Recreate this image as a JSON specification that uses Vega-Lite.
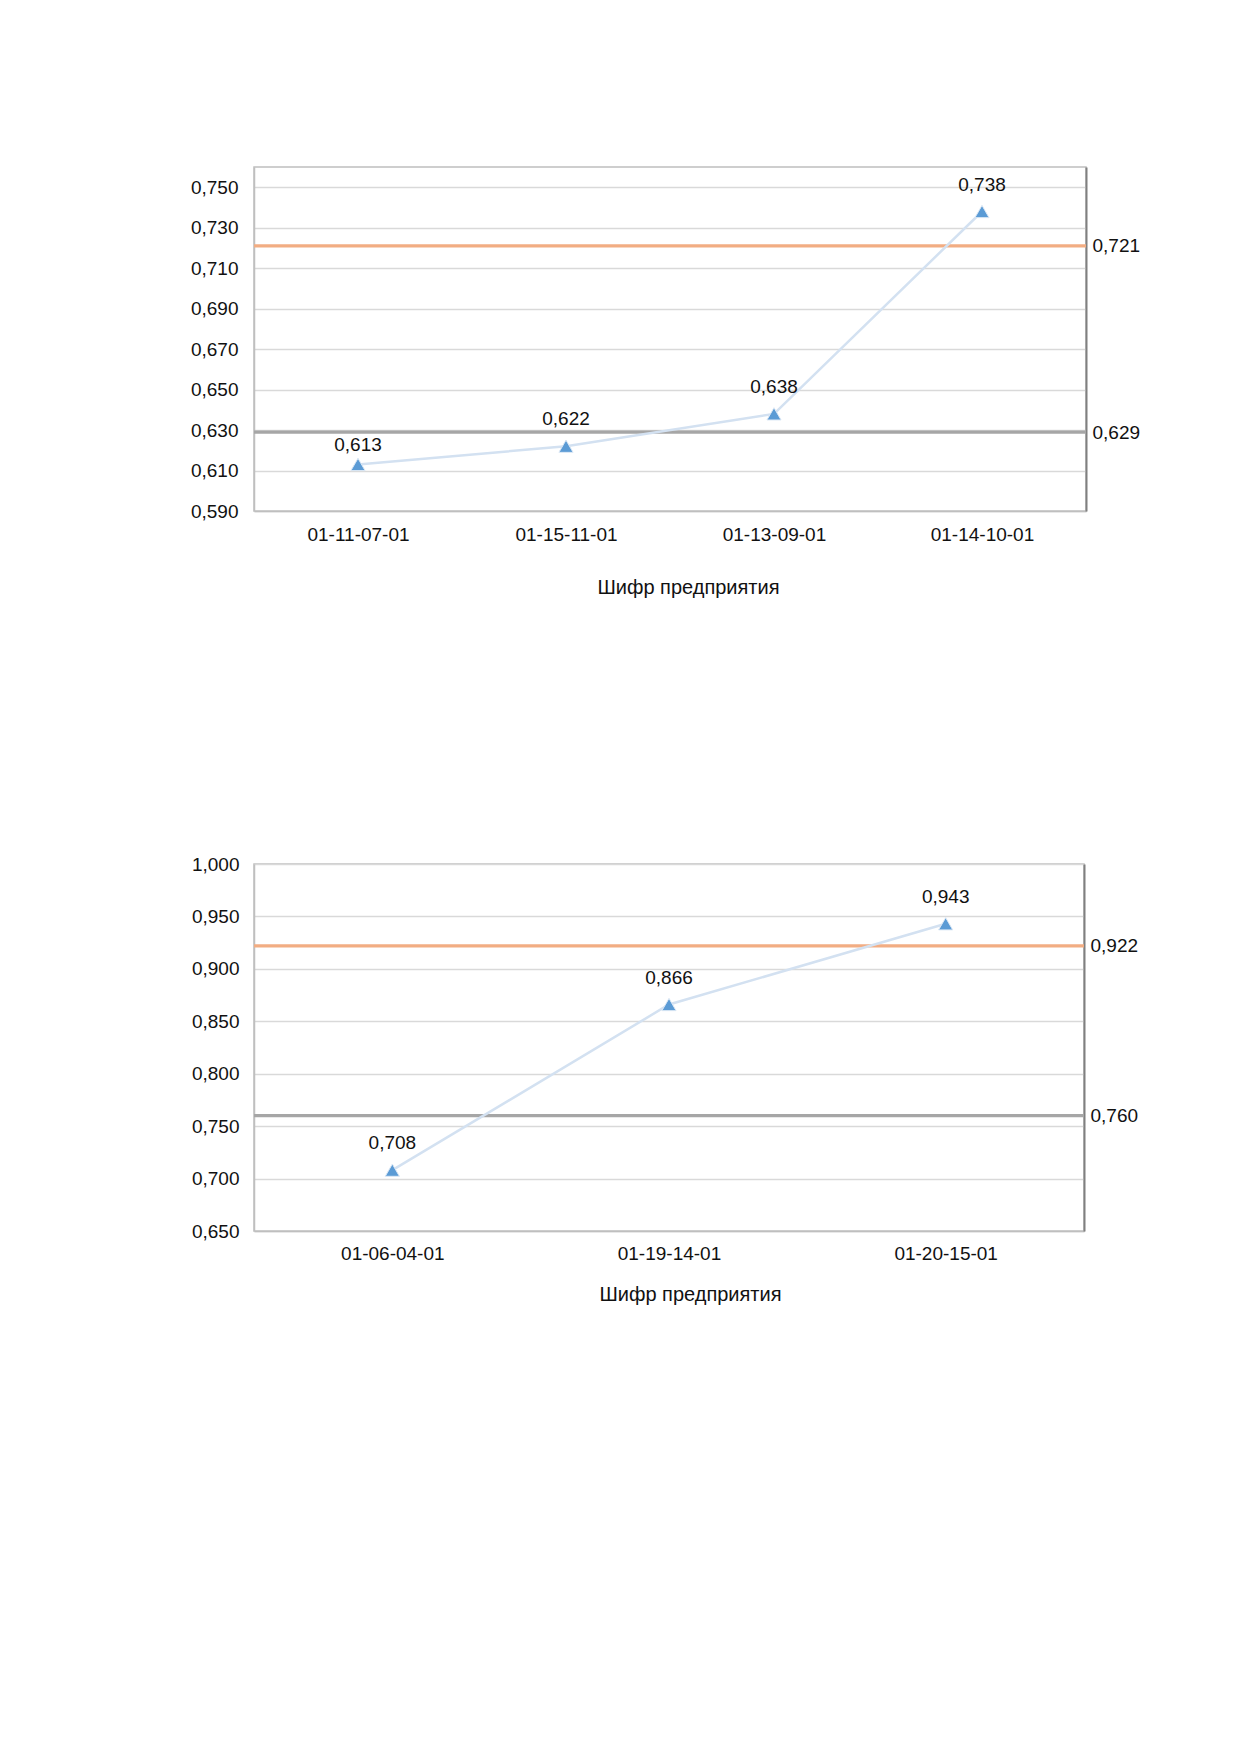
{
  "$schema": "https://vega.github.io/schema/vega-lite/v6.json",
  "background": "white",
  "padding": {"left": 189, "top": 166, "right": 20, "bottom": 20},
  "spacing": 256,
  "config": {
    "font": "Liberation Sans",
    "locale": {"number": {"decimal": ",", "thousands": " ", "grouping": [3], "currency": ["", ""]}},
    "view": {"stroke": "#bfbfbf", "strokeWidth": 1.5},
    "axis": {
      "labelFont": "Liberation Sans",
      "labelFontSize": 19,
      "labelColor": "#111111",
      "titleFont": "Liberation Sans",
      "titleFontSize": 20,
      "titleFontWeight": "normal",
      "titleColor": "#111111",
      "ticks": false,
      "domainColor": "#bfbfbf",
      "domainWidth": 1.5,
      "gridColor": "#d9d9d9",
      "gridWidth": 1.3
    }
  },
  "datasets": {
    "points1": [
      {"code": "01-11-07-01", "value": 0.613},
      {"code": "01-15-11-01", "value": 0.622},
      {"code": "01-13-09-01", "value": 0.638},
      {"code": "01-14-10-01", "value": 0.738}
    ],
    "refs1": [
      {"kind": "upper", "value": 0.721},
      {"kind": "lower", "value": 0.629}
    ],
    "points2": [
      {"code": "01-06-04-01", "value": 0.708},
      {"code": "01-19-14-01", "value": 0.866},
      {"code": "01-20-15-01", "value": 0.943}
    ],
    "refs2": [
      {"kind": "upper", "value": 0.922},
      {"kind": "lower", "value": 0.76}
    ]
  },
  "vconcat": [
    {
      "width": 832,
      "height": 344,
      "resolve": {"axis": {"y": "independent"}},
      "layer": [
        {
          "data": {"name": "refs1"},
          "mark": {"type": "rule", "strokeWidth": 3.2},
          "encoding": {
            "y": {
              "field": "value", "type": "quantitative",
              "scale": {"domain": [0.59, 0.76], "nice": false, "zero": false},
              "axis": {"orient": "right", "values": [0.721, 0.629], "format": ".3f", "grid": false, "labelPadding": 6, "domainColor": "#808080", "domainWidth": 2, "title": null}
            },
            "color": {
              "field": "kind", "type": "nominal", "legend": null,
              "scale": {"domain": ["upper", "lower"], "range": ["#f2ad83", "#a6a6a6"]}
            }
          }
        },
        {
          "data": {"name": "points1"},
          "mark": {"type": "line", "color": "#d3e1f1", "strokeWidth": 2.5},
          "encoding": {
            "x": {"field": "code", "type": "nominal", "sort": null, "scale": {"padding": 0.5}, "axis": {"title": "Шифр предприятия", "labelAngle": 0, "labelPadding": 14, "titlePadding": 33, "titleX": 434}},
            "y": {"field": "value", "type": "quantitative", "axis": null}
          }
        },
        {
          "data": {"name": "points1"},
          "mark": {"type": "point", "shape": "triangle-up", "filled": true, "size": 200, "fill": "#5b9bd5", "stroke": "#dce8f5", "strokeWidth": 1, "opacity": 1},
          "encoding": {
            "x": {"field": "code", "type": "nominal", "sort": null},
            "y": {
              "field": "value", "type": "quantitative",
              "axis": {"values": [0.59, 0.61, 0.63, 0.65, 0.67, 0.69, 0.71, 0.73, 0.75], "format": ".3f", "grid": true, "labelPadding": 16, "title": null}
            }
          }
        },
        {
          "data": {"name": "points1"},
          "transform": [{"filter": "datum.value != 0.613"}],
          "mark": {"type": "text", "fontSize": 19, "color": "#111111", "baseline": "middle", "dy": -27},
          "encoding": {
            "x": {"field": "code", "type": "nominal", "sort": null},
            "y": {"field": "value", "type": "quantitative", "axis": null},
            "text": {"field": "value", "type": "quantitative", "format": ".3f"}
          }
        },
        {
          "data": {"name": "points1"},
          "transform": [{"filter": "datum.value == 0.613"}],
          "mark": {"type": "text", "fontSize": 19, "color": "#111111", "baseline": "middle", "dy": -19},
          "encoding": {
            "x": {"field": "code", "type": "nominal", "sort": null},
            "y": {"field": "value", "type": "quantitative", "axis": null},
            "text": {"field": "value", "type": "quantitative", "format": ".3f"}
          }
        }
      ]
    },
    {
      "width": 830,
      "height": 367,
      "resolve": {"axis": {"y": "independent"}},
      "layer": [
        {
          "data": {"name": "refs2"},
          "mark": {"type": "rule", "strokeWidth": 3.2},
          "encoding": {
            "y": {
              "field": "value", "type": "quantitative",
              "scale": {"domain": [0.65, 1.0], "nice": false, "zero": false},
              "axis": {"orient": "right", "values": [0.922, 0.76], "format": ".3f", "grid": false, "labelPadding": 6, "domainColor": "#808080", "domainWidth": 2, "title": null}
            },
            "color": {
              "field": "kind", "type": "nominal", "legend": null,
              "scale": {"domain": ["upper", "lower"], "range": ["#f2ad83", "#a6a6a6"]}
            }
          }
        },
        {
          "data": {"name": "points2"},
          "mark": {"type": "line", "color": "#d3e1f1", "strokeWidth": 2.5},
          "encoding": {
            "x": {"field": "code", "type": "nominal", "sort": null, "scale": {"padding": 0.5}, "axis": {"title": "Шифр предприятия", "labelAngle": 0, "labelPadding": 13, "titlePadding": 21, "titleX": 436}},
            "y": {"field": "value", "type": "quantitative", "axis": null}
          }
        },
        {
          "data": {"name": "points2"},
          "mark": {"type": "point", "shape": "triangle-up", "filled": true, "size": 200, "fill": "#5b9bd5", "stroke": "#dce8f5", "strokeWidth": 1, "opacity": 1},
          "encoding": {
            "x": {"field": "code", "type": "nominal", "sort": null},
            "y": {
              "field": "value", "type": "quantitative",
              "axis": {"values": [0.65, 0.7, 0.75, 0.8, 0.85, 0.9, 0.95, 1.0], "format": ".3f", "grid": true, "labelPadding": 15, "title": null}
            }
          }
        },
        {
          "data": {"name": "points2"},
          "mark": {"type": "text", "fontSize": 19, "color": "#111111", "baseline": "middle", "dy": -27},
          "encoding": {
            "x": {"field": "code", "type": "nominal", "sort": null},
            "y": {"field": "value", "type": "quantitative", "axis": null},
            "text": {"field": "value", "type": "quantitative", "format": ".3f"}
          }
        }
      ]
    }
  ]
}
